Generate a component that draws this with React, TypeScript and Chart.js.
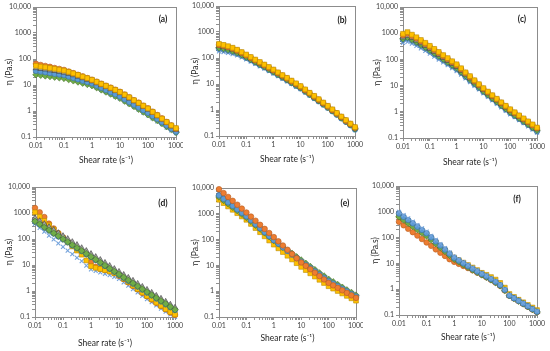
import React, { useEffect, useRef } from "react";
import { Chart, registerables } from "chart.js";
Chart.register(...registerables);

// ---------- data ----------
const shearRate = [0.01, 0.0147, 0.0215, 0.0316, 0.0464, 0.0681, 0.1, 0.147, 0.215, 0.316, 0.464, 0.681, 1, 1.47, 2.15, 3.16, 4.64, 6.81, 10, 14.7, 21.5, 31.6, 46.4, 68.1, 100, 147, 215, 316, 464, 681, 1000];
const xTickLabels = ["0.01", "0.1", "1", "10", "100", "1000"];
const yTickLabels = ["0.1", "1", "10", "100", "1000", "10,000"];
const panelLabels = ["(a)", "(b)", "(c)", "(d)", "(e)", "(f)"];
const xTitle = "Shear rate (s⁻¹)";
const yTitle = "η (Pa.s)";

// panel (a)
const aOrange = [65, 59, 54, 50, 45, 41.5, 38, 33, 28.5, 24.7, 21.4, 18.5, 16, 13.4, 11.2, 9.4, 7.9, 6.6, 5.5, 4.3, 3.4, 2.6, 2.1, 1.6, 1.27, 0.94, 0.7, 0.52, 0.38, 0.28, 0.21];
const aYellow = [55, 51, 48, 45, 42, 39, 36, 32, 28, 24.5, 21, 18.3, 15.8, 13.3, 11.1, 9.3, 7.8, 6.5, 5.4, 4.25, 3.35, 2.6, 2.05, 1.6, 1.25, 0.93, 0.69, 0.51, 0.38, 0.28, 0.22];
const aGray = [45, 42, 40, 37, 35, 32.5, 30, 27, 24, 21, 18.5, 16, 14, 11.8, 10, 8.4, 7, 5.9, 4.9, 3.9, 3.05, 2.4, 1.9, 1.47, 1.15, 0.86, 0.64, 0.48, 0.35, 0.26, 0.19];
const aSteel = [35, 33, 31, 29, 27, 25.6, 24, 21.2, 18.8, 16.6, 14.7, 13, 11.5, 9.5, 7.8, 6.4, 5.3, 4.4, 3.6, 2.8, 2.2, 1.75, 1.37, 1.08, 0.85, 0.64, 0.49, 0.37, 0.28, 0.21, 0.16];
const aGreen = [25, 23.7, 22.4, 21.2, 20.1, 19, 18, 16.2, 14.5, 13.1, 11.8, 10.6, 9.5, 7.9, 6.5, 5.4, 4.5, 3.7, 3.1, 2.4, 1.9, 1.5, 1.17, 0.92, 0.72, 0.55, 0.43, 0.33, 0.25, 0.195, 0.15];
const aLight = [30, 28.3, 26.7, 25, 23.6, 22, 20.5, 18.3, 16.2, 14.3, 12.6, 11, 9.6, 7.9, 6.5, 5.3, 4.4, 3.6, 3.0, 2.35, 1.85, 1.45, 1.13, 0.87, 0.68, 0.52, 0.4, 0.31, 0.23, 0.18, 0.14];

// panel (b)
const bYellow = [350, 319, 284, 248, 208, 169, 136, 109, 87, 70, 56, 45, 36, 28, 22, 17.3, 13.5, 10.6, 8.3, 6.2, 4.6, 3.5, 2.6, 1.94, 1.45, 1.06, 0.77, 0.56, 0.41, 0.3, 0.22];
const bOrange = [320, 295, 265, 232, 196, 160, 128, 103, 82, 66, 53, 42.5, 34, 26.7, 21, 16.4, 12.8, 10, 7.9, 5.9, 4.4, 3.3, 2.5, 1.85, 1.38, 1.01, 0.74, 0.54, 0.39, 0.29, 0.21];
const bGray = [290, 268, 242, 213, 181, 149, 120, 97, 78, 62, 50, 40, 32, 25.3, 19.9, 15.6, 12.2, 9.6, 7.5, 5.6, 4.2, 3.15, 2.35, 1.76, 1.32, 0.97, 0.71, 0.52, 0.38, 0.28, 0.2];
const bGreen = [250, 233, 212, 188, 162, 135, 110, 89, 72, 58, 47, 37.5, 30, 23.8, 18.8, 14.8, 11.6, 9.1, 7.2, 5.4, 4.05, 3.05, 2.28, 1.7, 1.28, 0.94, 0.69, 0.5, 0.37, 0.27, 0.19];
const bSteel = [225, 210, 192, 171, 148, 124, 102, 83, 67, 54, 44, 35, 28, 22.3, 17.6, 13.9, 10.9, 8.6, 6.8, 5.1, 3.85, 2.9, 2.17, 1.63, 1.22, 0.9, 0.66, 0.48, 0.35, 0.26, 0.18];
const bLight = [180, 170, 157, 142, 125, 106, 89, 73, 59, 48, 39, 31.5, 25, 20, 15.9, 12.6, 10, 7.9, 6.3, 4.8, 3.6, 2.7, 2.05, 1.55, 1.16, 0.86, 0.63, 0.46, 0.34, 0.25, 0.17];

// panel (c)
const cYellow = [950, 1100, 880, 700, 550, 430, 330, 252, 192, 146, 112, 85, 65, 46, 32, 23, 16, 11.3, 8, 5.9, 4.3, 3.15, 2.3, 1.7, 1.25, 0.96, 0.73, 0.56, 0.43, 0.33, 0.25];
const cOrange = [850, 980, 800, 640, 505, 395, 305, 233, 178, 136, 104, 80, 61, 43, 30.5, 21.5, 15.3, 10.8, 7.6, 5.6, 4.1, 3, 2.2, 1.62, 1.19, 0.91, 0.7, 0.53, 0.41, 0.31, 0.24];
const cGray = [700, 800, 660, 530, 420, 330, 255, 196, 150, 115, 88, 68, 52, 37, 26.5, 19, 13.5, 9.6, 6.9, 5.1, 3.75, 2.75, 2.0, 1.48, 1.09, 0.84, 0.64, 0.49, 0.38, 0.29, 0.22];
const cGreen = [620, 700, 580, 470, 375, 295, 230, 177, 136, 104, 80, 62, 48, 34, 24.5, 17.5, 12.5, 8.9, 6.3, 4.6, 3.4, 2.5, 1.82, 1.34, 0.99, 0.76, 0.58, 0.45, 0.34, 0.26, 0.2];
const cSteel = [560, 630, 520, 420, 335, 265, 205, 158, 122, 94, 72, 56, 43, 31, 22, 15.8, 11.3, 8.1, 5.8, 4.25, 3.12, 2.3, 1.68, 1.24, 0.91, 0.7, 0.54, 0.41, 0.32, 0.24, 0.18];
const cLight = [430, 470, 400, 330, 265, 210, 165, 128, 99, 77, 60, 46, 36, 26, 18.8, 13.6, 9.8, 7.1, 5.1, 3.75, 2.75, 2.0, 1.48, 1.09, 0.8, 0.62, 0.48, 0.37, 0.28, 0.21, 0.16];

// panel (d)
const dGray = [640, 490, 378, 288, 223, 170, 131, 101, 77, 59.5, 45, 35, 26.8, 20.5, 15.8, 12.2, 9.3, 7.1, 5.5, 4.2, 3.25, 2.5, 1.9, 1.46, 1.12, 0.86, 0.66, 0.51, 0.39, 0.3, 0.23];
const dGreen = [480, 372, 284, 220, 168, 130, 100, 77, 59, 45.5, 35.2, 27, 20.9, 16.1, 12.4, 9.5, 7.3, 5.65, 4.35, 3.35, 2.58, 1.99, 1.53, 1.18, 0.91, 0.7, 0.54, 0.415, 0.32, 0.246, 0.19];
const dSteel = [465, 360, 276, 213, 163, 126, 97, 75, 57, 44, 34.2, 26.2, 20.3, 15.6, 12, 9.2, 7.1, 5.5, 4.22, 3.25, 2.5, 1.93, 1.48, 1.14, 0.88, 0.68, 0.52, 0.4, 0.31, 0.24, 0.185];
const dYellow = [1060, 725, 496, 339, 232, 159, 109, 75, 52, 36, 25, 15, 9, 7.8, 7.0, 6.3, 5.6, 4.8, 4.0, 2.95, 2.2, 1.6, 1.18, 0.87, 0.64, 0.48, 0.36, 0.27, 0.2, 0.155, 0.125];
const dOrange = [1560, 1060, 700, 390, 255, 168, 113, 79, 56, 40, 32, 26, 13, 8.6, 7.3, 6.5, 5.8, 4.9, 3.9, 2.9, 2.15, 1.57, 1.16, 0.85, 0.63, 0.47, 0.35, 0.265, 0.2, 0.15, 0.12];
const dLight = [380, 270, 190, 135, 96, 68, 50, 36, 26, 19, 14, 9.5, 6.8, 5.9, 5.2, 4.6, 4.1, 3.5, 2.9, 2.15, 1.6, 1.18, 0.88, 0.65, 0.49, 0.37, 0.28, 0.21, 0.16, 0.125, 0.1];

// panel (e)
const eOrange = [9000, 6360, 4500, 3180, 2250, 1590, 1125, 780, 540, 375, 260, 180, 125, 86, 59, 40.5, 27.8, 19, 13, 9.6, 7.1, 5.2, 3.85, 2.85, 2.1, 1.68, 1.35, 1.08, 0.86, 0.69, 0.55];
const eYellow = [3500, 2600, 1930, 1430, 1060, 790, 586, 405, 280, 194, 134, 92.6, 64, 46, 33, 23.7, 17, 12.2, 8.8, 6.6, 4.94, 3.7, 2.77, 2.08, 1.56, 1.26, 1.02, 0.82, 0.66, 0.53, 0.43];
const eSteel = [5200, 3810, 2790, 2040, 1490, 1090, 800, 561, 393, 276, 193, 136, 95, 69, 50, 36.5, 26.5, 19.3, 14, 10.5, 7.9, 5.9, 4.43, 3.33, 2.5, 1.98, 1.57, 1.25, 0.99, 0.78, 0.62];
const eGray = [5800, 4200, 3050, 2220, 1610, 1170, 850, 595, 416, 291, 204, 143, 100, 73, 53, 38.5, 28, 20.4, 14.8, 11.1, 8.3, 6.2, 4.6, 3.45, 2.6, 2.05, 1.62, 1.28, 1.01, 0.8, 0.63];
const eGreen = [4500, 3320, 2440, 1800, 1330, 977, 720, 511, 363, 257, 183, 130, 92, 68.7, 51.3, 38.4, 28.7, 21.4, 16, 12, 9.05, 6.8, 5.1, 3.86, 2.9, 2.29, 1.8, 1.42, 1.12, 0.89, 0.7];
const eLight = [4800, 3540, 2600, 1920, 1410, 1040, 760, 535, 376, 264, 186, 131, 92, 67, 48.5, 35.3, 25.7, 18.7, 13.6, 10.2, 7.7, 5.75, 4.3, 3.22, 2.42, 1.92, 1.52, 1.21, 0.96, 0.76, 0.6];

// panel (f)
const fLight = [1000, 744, 554, 412, 307, 228, 170, 117, 81, 56, 38.8, 26.8, 18.5, 14.4, 11.3, 8.8, 6.9, 5.4, 4.2, 3.4, 2.7, 2.1, 1.55, 1.0, 0.6, 0.47, 0.37, 0.29, 0.227, 0.178, 0.14];
const fSteel = [860, 640, 480, 357, 266, 198, 148, 103, 71, 49.5, 34.3, 23.8, 16.5, 12.9, 10.1, 7.9, 6.2, 4.9, 3.9, 3.15, 2.5, 1.95, 1.45, 0.95, 0.57, 0.45, 0.355, 0.28, 0.22, 0.17, 0.135];
const fGreen = [640, 480, 362, 272, 205, 154, 116, 82, 58, 41, 29, 20.5, 14.5, 11.5, 9.0, 7.1, 5.6, 4.5, 3.6, 2.9, 2.3, 1.8, 1.35, 0.9, 0.56, 0.44, 0.345, 0.27, 0.21, 0.165, 0.13];
const fOrange = [410, 300, 220, 162, 120, 88, 65, 48, 35, 26, 19.5, 14.5, 11.5, 9.6, 8, 6.6, 5.4, 4.4, 3.6, 2.9, 2.3, 1.8, 1.35, 0.9, 0.56, 0.44, 0.345, 0.27, 0.21, 0.165, 0.13];
const fYellow = [700, 525, 395, 297, 223, 168, 127, 90, 64, 45, 32, 23, 16.5, 13.3, 10.7, 8.6, 6.9, 5.5, 4.3, 3.6, 2.95, 2.35, 1.75, 1.15, 0.65, 0.5, 0.39, 0.31, 0.245, 0.195, 0.155];
const fGray = [750, 560, 420, 315, 236, 177, 133, 93, 66, 46, 32.5, 23, 16.3, 12.8, 10, 7.9, 6.2, 4.9, 3.9, 3.1, 2.45, 1.9, 1.4, 0.92, 0.56, 0.44, 0.35, 0.275, 0.215, 0.168, 0.132];

// ---------- styles ----------
type Key = "orange" | "yellow" | "gray" | "green" | "steel" | "light";
const STYLE: Record<Key, any> = {
  orange: { pointStyle: "circle", bg: "#ED7D31", border: "#B85C1E", r: 2.8, bw: 0.6 },
  yellow: { pointStyle: "rect", bg: "#FFC000", border: "#B88A00", r: 3.4, bw: 0.6 },
  gray: { pointStyle: "triangle", bg: "#A5A5A5", border: "#3A3A3A", r: 3.3, bw: 0.6 },
  green: { pointStyle: "rectRot", bg: "#70AD47", border: "#46702B", r: 3.3, bw: 0.6 },
  steel: { pointStyle: "circle", bg: "#5B9BD5", border: "#3A6E9E", r: 2.8, bw: 0.6 },
  light: { pointStyle: "crossRot", bg: "#8DB4E2", border: "#74A3DC", r: 2.8, bw: 1.1 },
};

const PANELS = [
  { series: { orange: aOrange, yellow: aYellow, gray: aGray, green: aGreen, steel: aSteel, light: aLight }, stack: ["light", "green", "steel", "gray", "orange", "yellow"] },
  { series: { orange: bOrange, yellow: bYellow, gray: bGray, green: bGreen, steel: bSteel, light: bLight }, stack: ["light", "steel", "green", "gray", "orange", "yellow"] },
  { series: { orange: cOrange, yellow: cYellow, gray: cGray, green: cGreen, steel: cSteel, light: cLight }, stack: ["light", "steel", "green", "gray", "orange", "yellow"] },
  { series: { orange: dOrange, yellow: dYellow, gray: dGray, green: dGreen, steel: dSteel, light: dLight }, stack: ["light", "orange", "yellow", "steel", "gray", "green"] },
  { series: { orange: eOrange, yellow: eYellow, gray: eGray, green: eGreen, steel: eSteel, light: eLight }, stack: ["light", "gray", "yellow", "green", "steel", "orange"] },
  { series: { orange: fOrange, yellow: fYellow, gray: fGray, green: fGreen, steel: fSteel, light: fLight }, stack: ["orange", "gray", "yellow", "green", "steel", "light"] },
];

const LAYOUT = [
  { left: 0, top: 0, w: 183, h: 175, yw: 36, pt: 7, pr: 7, xh: 38, yTitlePad: 4, xTitlePad: 10, lx: 13, ly: 12 },
  { left: 183, top: 0, w: 180, h: 175, yw: 36, pt: 6, pr: 8, xh: 39, yTitlePad: 7, xTitlePad: 11, lx: 13, ly: 14 },
  { left: 363, top: 0, w: 187, h: 175, yw: 40, pt: 7, pr: 13, xh: 37, yTitlePad: 9, xTitlePad: 8, lx: 15, ly: 12 },
  { left: 0, top: 175, w: 183, h: 176, yw: 35, pt: 12, pr: 8, xh: 34, yTitlePad: 4, xTitlePad: 3, lx: 12, ly: 16 },
  { left: 183, top: 175, w: 180, h: 176, yw: 36, pt: 13, pr: 7, xh: 34, yTitlePad: 7, xTitlePad: 8, lx: 11, ly: 15 },
  { left: 363, top: 175, w: 187, h: 176, yw: 36, pt: 11, pr: 13, xh: 36, yTitlePad: 7, xTitlePad: 9, lx: 20, ly: 13 },
];

const FONT = "Lato, 'Liberation Sans', sans-serif";
const AXIS = "#737373";

function logTicks(minExp: number, maxExp: number) {
  const out: number[] = [];
  for (let e = minExp; e < maxExp; e++) {
    for (let m = 1; m <= 9; m++) out.push(Number((m * Math.pow(10, e)).toPrecision(6)));
  }
  out.push(Math.pow(10, maxExp));
  return out;
}

function labelFor(labels: string[], minExp: number) {
  return (value: any) => {
    const lg = Math.log10(Number(value));
    const e = Math.round(lg);
    if (Math.abs(lg - e) > 1e-6) return "";
    return labels[e - minExp] ?? "";
  };
}

const framePlugin = {
  id: "frame",
  beforeDatasetsDraw(chart: any) {
    const { ctx, chartArea } = chart;
    const { left, top, right, bottom } = chartArea;
    ctx.save();
    ctx.strokeStyle = "#8c8c8c";
    ctx.lineWidth = 1;
    ctx.strokeRect(Math.round(left) + 0.5, Math.round(top) + 0.5, Math.round(right - left), Math.round(bottom - top));
    ctx.restore();
  },
  afterDraw(chart: any, _args: any, opts: any) {
    const { ctx, chartArea } = chart;
    ctx.save();
    ctx.font = `bold 8.5px ${FONT}`;
    ctx.fillStyle = "#1a1a1a";
    ctx.textAlign = "center";
    ctx.textBaseline = "middle";
    ctx.fillText(opts.label, chartArea.right - opts.dx, chartArea.top + opts.dy);
    ctx.restore();
  },
};

function Panel({ idx }: { idx: number }) {
  const ref = useRef<HTMLCanvasElement>(null);
  const L = LAYOUT[idx];
  useEffect(() => {
    const P = PANELS[idx];
    const n = P.stack.length;
    const datasets = P.stack.map((key, i) => {
      const s = STYLE[key as Key];
      const vals = (P.series as any)[key] as number[];
      return {
        label: key,
        data: shearRate.map((x, j) => ({ x, y: vals[j] })),
        order: n - i,
        pointStyle: s.pointStyle,
        pointRadius: s.r,
        pointBackgroundColor: s.bg,
        pointBorderColor: s.border,
        pointBorderWidth: s.bw,
        backgroundColor: s.bg,
        borderColor: s.border,
        showLine: false,
        clip: false as any,
      };
    });
    const xTickVals = logTicks(-2, 3);
    const yTickVals = logTicks(-1, 4);
    const chart = new Chart(ref.current as HTMLCanvasElement, {
      type: "scatter",
      data: { datasets },
      plugins: [framePlugin],
      options: {
        responsive: false,
        animation: false,
        devicePixelRatio: 1,
        events: [],
        layout: { padding: { left: 0, top: L.pt, right: L.pr, bottom: 0 } },
        plugins: {
          legend: { display: false },
          tooltip: { enabled: false },
          frame: { label: panelLabels[idx], dx: L.lx, dy: L.ly },
        } as any,
        scales: {
          x: {
            type: "logarithmic",
            min: 0.01,
            max: 1000,
            afterBuildTicks: (sc: any) => {
              sc.ticks = xTickVals.map((v) => ({ value: v }));
            },
            afterFit: (sc: any) => {
              sc.height = L.xh;
              sc.paddingLeft = 0;
              sc.paddingRight = 0;
            },
            ticks: {
              autoSkip: false,
              maxRotation: 0,
              minRotation: 0,
              padding: 2,
              color: "#404040",
              font: { family: FONT, size: 7 },
              callback: labelFor(xTickLabels, -2),
            },
            grid: { display: true, drawOnChartArea: false, drawTicks: true, tickLength: 3, color: AXIS, lineWidth: 0.8 },
            border: { display: true, color: AXIS, width: 1 },
            title: {
              display: true,
              text: xTitle,
              color: "#262626",
              font: { family: FONT, size: 8.5 },
              padding: { top: 0, bottom: L.xTitlePad },
            },
          },
          y: {
            type: "logarithmic",
            min: 0.1,
            max: 10000,
            afterBuildTicks: (sc: any) => {
              sc.ticks = yTickVals.map((v) => ({ value: v }));
            },
            afterFit: (sc: any) => {
              sc.width = L.yw;
              sc.paddingTop = 0;
              sc.paddingBottom = 0;
            },
            ticks: {
              autoSkip: false,
              padding: 2,
              color: "#404040",
              font: { family: FONT, size: 7 },
              callback: labelFor(yTickLabels, -1),
            },
            grid: { display: true, drawOnChartArea: false, drawTicks: true, tickLength: 3, color: AXIS, lineWidth: 0.8 },
            border: { display: true, color: AXIS, width: 1 },
            title: {
              display: true,
              text: yTitle,
              color: "#262626",
              font: { family: FONT, size: 8.5 },
              padding: { top: L.yTitlePad, bottom: 0 },
            },
          },
        },
      } as any,
    });
    return () => chart.destroy();
  }, [idx]);
  return (
    <canvas
      ref={ref}
      width={L.w}
      height={L.h}
      style={{ position: "absolute", left: L.left, top: L.top, width: L.w, height: L.h }}
    />
  );
}

export default function App() {
  return (
    <div style={{ position: "absolute", left: 0, top: 0, width: 550, height: 351, background: "#ffffff", overflow: "hidden" }}>
      {PANELS.map((_, i) => (
        <Panel key={i} idx={i} />
      ))}
    </div>
  );
}
